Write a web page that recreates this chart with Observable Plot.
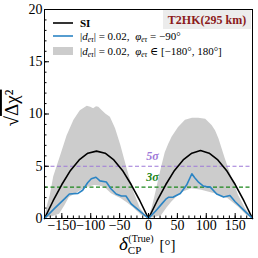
<!DOCTYPE html>
<html><head><meta charset="utf-8">
<script src="https://cdn.jsdelivr.net/npm/d3@7"></script>
<script src="https://cdn.jsdelivr.net/npm/@observablehq/plot@0.6"></script>
<style>body{margin:0;background:#fff}</style>
</head><body><div id="chart"></div>
<script>
// SI (standard interactions)
const siX = [-180,-165,-150,-135,-120,-105,-90,-75,-60,-45,-30,-15,0,15,30,45,60,75,90,105,120,135,150,165,180];
const siY = [0,1.7,3.25,4.6,5.6,6.25,6.45,6.25,5.6,4.6,3.25,1.7,0,1.7,3.25,4.6,5.6,6.25,6.5,6.25,5.6,4.6,3.25,1.7,0];
// |d_et| = 0.02, phi = -90
const blueX = [-180,-163,-145,-137,-122,-114,-105,-99,-91,-84,-73,-65,-56,-47,-39,-30,-15,0,12,23,30,35,43,55,66,75,80,87,95,100,107,118,130,141,150,165,180];
const blueY = [0,0.95,1.9,2.35,2.4,2.7,3.45,3.8,3.95,3.6,3.5,2.85,2.35,2.15,2.15,1.4,0.7,0,0.7,1.4,1.85,2.04,2.05,2.4,3.2,4.28,3.9,3.45,3.1,3.05,3.0,2.35,2.05,2.2,1.6,0.8,0];
// band upper edge
const upX = [-180,-175,-170,-164,-158,-152,-141,-129,-118,-106,-100,-95,-90,-86,-80,-74,-66,-57,-48,-37,-25,-14,0,6,12,18,24,29,35,41,52,64,76,87,99,110,116,122,133,145,156,168,180];
const upY = [0,1.2,2.2,4.0,5.0,6.0,7.9,9.4,10.3,10.75,10.65,10.5,10.7,10.65,10.3,10.0,9.7,8.6,7.0,4.75,2.5,0.95,0,0.93,2.3,3.8,5.2,6.3,7.1,7.8,8.7,9.4,9.6,9.6,9.5,8.9,8.4,7.6,5.7,3.8,2.2,0.93,0];
// band lower edge
const loX = [-180,-165,-154,-145,-137,-125,-116,-105,-93,-85,-76,-64,-55,-47,-37,-27,-12,0,12,23,32,40,50,58,75,92,115,138,156,170,180];
const loY = [0,0.2,0.4,1.2,2.0,2.4,2.7,3.0,3.16,3.1,3.0,2.36,2.1,1.9,1.5,1.08,0.3,0,0.1,0.3,1.0,1.56,2.1,2.5,2.84,2.7,2.36,1.9,1.08,0.3,0];
const sigmaLevels = [5,3];
const sigmaLabels = ["5σ","3σ"];
const sigmaColors = ["#9d78d8","#1a861a"];
const sigmaLabelX = [7,7];
const xMajor = [-150,-100,-50,0,50,100,150];
const xMinor = d3.range(-180,181,10);
const yMajor = [0,5,10,15,20];
const yMinor = d3.range(0,21,1);

const si = siX.map((x,i)=>({x,y:siY[i]}));
const blue = blueX.map((x,i)=>({x,y:blueY[i]}));
const up = upX.map((x,i)=>({x,y:upY[i]}));
const lo = loX.map((x,i)=>({x,y:loY[i]}));
const sig = sigmaLevels.map((y,i)=>({y,label:sigmaLabels[i],c:sigmaColors[i],x:sigmaLabelX[i]}));

const serif = "'Liberation Serif','DejaVu Serif',serif";
const fmt = d => d < 0 ? "\u2212" + (-d) : String(d);

const plot = Plot.plot({
  width:258, height:258, marginTop:9, marginRight:6, marginBottom:40, marginLeft:44,
  style:{fontFamily:serif, background:"#fff", overflow:"visible"},
  x:{domain:[-180,180]}, y:{domain:[0,20]},
  marks:[
    Plot.areaY(up,{x:"x",y:"y",fill:"#cccccc"}),
    Plot.areaY(lo,{x:"x",y:"y",fill:"#ffffff"}),
    Plot.ruleY(sig,{y:"y",stroke:"c",strokeDasharray:"4,2.5",strokeWidth:1.1}),
    Plot.text(sig,{x:"x",y:"y",text:"label",fill:"c",dy:-10,fontSize:12,fontStyle:"italic",fontWeight:"bold"}),
    Plot.line(si,{x:"x",y:"y",stroke:"black",strokeWidth:1.6}),
    Plot.line(blue,{x:"x",y:"y",stroke:"#2b84c4",strokeWidth:1.6}),
    Plot.frame({stroke:"black"}),
    Plot.axisX({ticks:xMajor,tickSize:-5,tickPadding:7,fontSize:14,tickFormat:fmt,label:null,fill:"black"}),
    Plot.axisX({ticks:xMinor,tickSize:-2.5,tickFormat:()=>"",label:null}),
    Plot.axisY({ticks:yMajor,tickSize:-5,tickPadding:7,fontSize:14,tickFormat:fmt,label:null,fill:"black"}),
    Plot.axisY({ticks:yMinor,tickSize:-2.5,tickFormat:()=>"",label:null})
  ]
});
document.getElementById("chart").appendChild(plot);

const svg = d3.select(plot);
// y label
const yl = svg.append("text").attr("transform","translate(18,108) rotate(-90)")
  .attr("text-anchor","middle").attr("font-family",serif).attr("font-size",19).attr("fill","black");
yl.append("tspan").text("√");
yl.append("tspan").attr("text-decoration","overline").text("Δχ²");
// x label
const xl = svg.append("text").attr("x",119).attr("y",250).attr("text-anchor","start").attr("font-family",serif).attr("fill","black");
xl.append("tspan").attr("font-size",19).attr("font-style","italic").text("δ");
xl.append("tspan").attr("font-size",11).attr("dy",4).text("CP");
xl.append("tspan").attr("font-size",10).attr("dx",-13).attr("dy",-12).text("(True)");
xl.append("tspan").attr("font-size",15).attr("dx",6).attr("dy",8).text("[°]");

// legend
const lg = svg.append("g").attr("font-family",serif).attr("font-size",11).attr("fill","black").attr("text-anchor","start");
lg.append("line").attr("x1",53).attr("x2",73).attr("y1",23).attr("y2",23).attr("stroke","black").attr("stroke-width",1.6);
lg.append("text").attr("x",80).attr("y",27).attr("font-weight","bold").text("SI");
lg.append("line").attr("x1",53).attr("x2",73).attr("y1",36).attr("y2",36).attr("stroke","#2b84c4").attr("stroke-width",1.6);
const t2 = lg.append("text").attr("x",80).attr("y",39.5);
t2.append("tspan").text("|");
t2.append("tspan").attr("font-style","italic").text("d");
t2.append("tspan").attr("font-style","italic").attr("font-size",7.5).attr("dy",2).text("eτ");
t2.append("tspan").attr("dy",-2).text("| = 0.02,  ");
t2.append("tspan").attr("font-style","italic").text("φ");
t2.append("tspan").attr("font-style","italic").attr("font-size",7.5).attr("dy",2).text("eτ");
t2.append("tspan").attr("dy",-2).text(" = −90°");
lg.append("rect").attr("x",53).attr("y",47).attr("width",20).attr("height",8).attr("fill","#cccccc");
const t3 = lg.append("text").attr("x",80).attr("y",55);
t3.append("tspan").text("|");
t3.append("tspan").attr("font-style","italic").text("d");
t3.append("tspan").attr("font-style","italic").attr("font-size",7.5).attr("dy",2).text("eτ");
t3.append("tspan").attr("dy",-2).text("| = 0.02,  ");
t3.append("tspan").attr("font-style","italic").text("φ");
t3.append("tspan").attr("font-style","italic").attr("font-size",7.5).attr("dy",2).text("eτ");
t3.append("tspan").attr("dy",-2).text(" ∈ [−180°, 180°]");
// experiment box
svg.append("rect").attr("x",163).attr("y",10).attr("width",88).attr("height",19).attr("fill","#ececec");
svg.append("text").attr("x",207).attr("y",23.5).attr("text-anchor","middle").attr("font-family",serif)
  .attr("font-size",12).attr("font-weight","bold").attr("fill","#8b1a1a").text("T2HK(295 km)");
</script></body></html>
